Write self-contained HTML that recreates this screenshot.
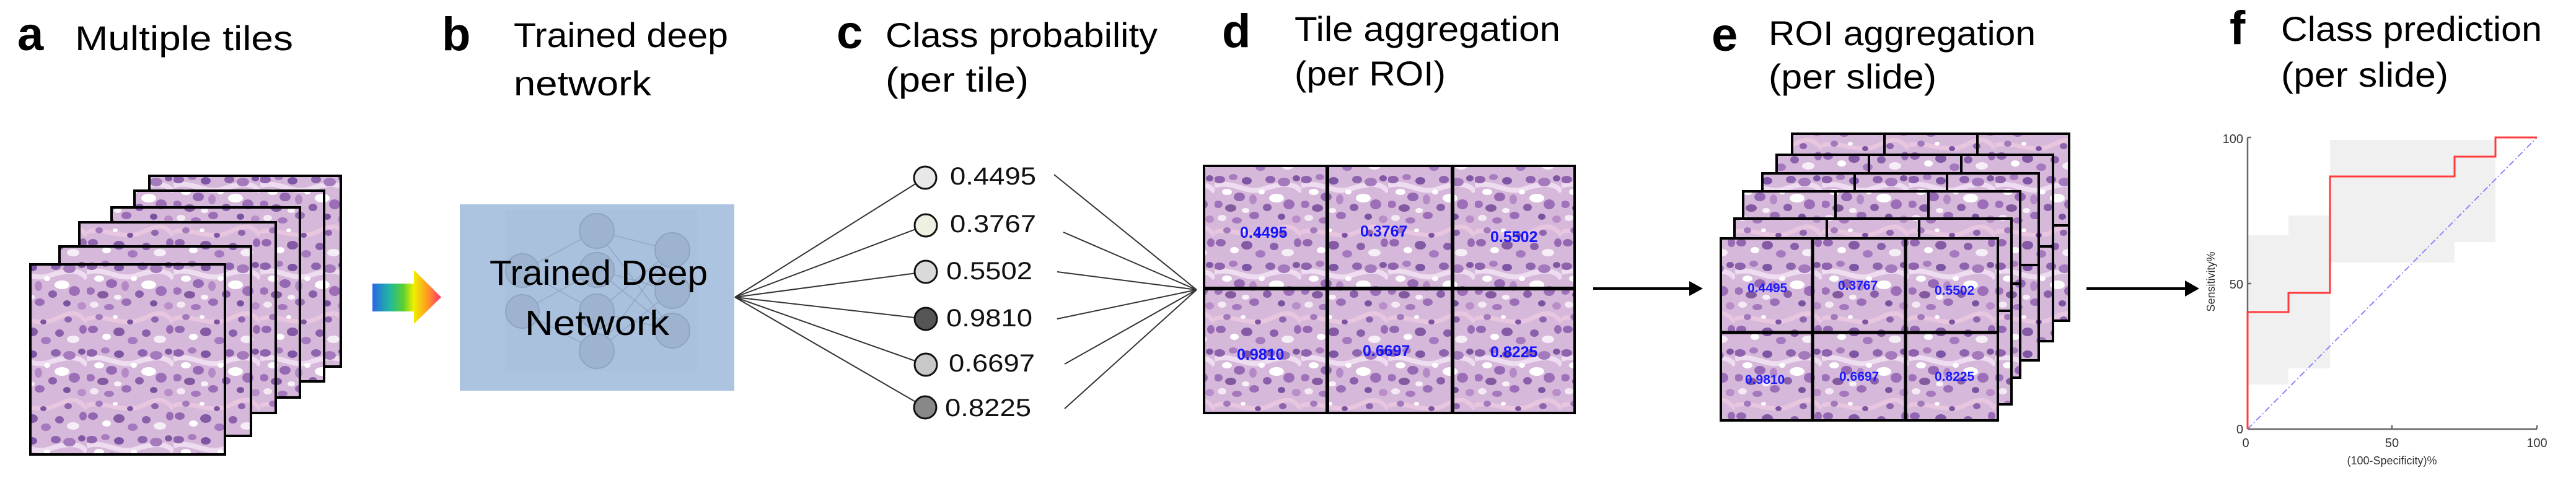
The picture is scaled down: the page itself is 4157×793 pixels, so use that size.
<!DOCTYPE html>
<html><head><meta charset="utf-8"><style>html,body{margin:0;padding:0;background:#fff;}svg{display:block}</style></head>
<body>
<svg width="4157" height="793" viewBox="0 0 4157 793" xmlns="http://www.w3.org/2000/svg" font-family="'Liberation Sans', sans-serif">
<defs>
<pattern id="h" width="140" height="140" patternUnits="userSpaceOnUse">
<rect width="140" height="140" fill="#d6b8da"/>
<path d="M0,20 C30,10 50,35 80,25 S130,15 140,30" stroke="#eedcf0" stroke-width="8" fill="none"/>
<path d="M0,95 C25,85 60,110 90,95 S125,85 140,100" stroke="#e9c6e0" stroke-width="7" fill="none"/>
<ellipse cx="8" cy="10" rx="9" ry="6" fill="#8e62ac"/>
<ellipse cx="30" cy="6" rx="7" ry="5" fill="#a97cbf"/>
<ellipse cx="52" cy="12" rx="8" ry="6" fill="#7d55a4"/>
<ellipse cx="20" cy="30" rx="8" ry="5" fill="#ffffff"/>
<ellipse cx="40" cy="38" rx="9" ry="7" fill="#9568b3"/>
<ellipse cx="62" cy="42" rx="6" ry="8" fill="#b48ac6"/>
<ellipse cx="6" cy="50" rx="7" ry="6" fill="#a071bb"/>
<ellipse cx="26" cy="56" rx="9" ry="6" fill="#83599f"/>
<ellipse cx="50" cy="60" rx="6" ry="4" fill="#f8f2f8"/>
<ellipse cx="64" cy="68" rx="8" ry="6" fill="#9a6db6"/>
<ellipse cx="12" cy="72" rx="7" ry="5" fill="#f4eaf4"/>
<ellipse cx="36" cy="76" rx="8" ry="5" fill="#a577bd"/>
<ellipse cx="90" cy="10" rx="8" ry="6" fill="#8d64ad"/>
<ellipse cx="112" cy="14" rx="10" ry="7" fill="#a47abd"/>
<ellipse cx="132" cy="8" rx="6" ry="5" fill="#7f57a3"/>
<ellipse cx="100" cy="40" rx="12" ry="7" fill="#ffffff"/>
<ellipse cx="85" cy="55" rx="7" ry="6" fill="#8a5fa9"/>
<ellipse cx="120" cy="50" rx="9" ry="8" fill="#9b6eb7"/>
<ellipse cx="108" cy="70" rx="6" ry="5" fill="#7a52a0"/>
<ellipse cx="132" cy="74" rx="7" ry="6" fill="#b88dc8"/>
<ellipse cx="10" cy="112" rx="8" ry="6" fill="#9266b0"/>
<ellipse cx="32" cy="124" rx="7" ry="5" fill="#ffffff"/>
<ellipse cx="52" cy="116" rx="9" ry="7" fill="#845aa5"/>
<ellipse cx="74" cy="130" rx="8" ry="6" fill="#a579bf"/>
<ellipse cx="96" cy="118" rx="7" ry="6" fill="#8b60ab"/>
<ellipse cx="118" cy="128" rx="10" ry="6" fill="#f6eef6"/>
<ellipse cx="134" cy="112" rx="6" ry="7" fill="#9a6bb5"/>
<ellipse cx="70" cy="100" rx="5" ry="4" fill="#7c54a2"/>
<ellipse cx="20" cy="92" rx="6" ry="5" fill="#a27abc"/>
<ellipse cx="46" cy="92" rx="4" ry="3" fill="#ffffff"/>
<ellipse cx="110" cy="96" rx="6" ry="5" fill="#8f63ae"/>
<ellipse cx="76" cy="30" rx="5" ry="4" fill="#ffffff"/>
</pattern>
<linearGradient id="rb" x1="601" y1="0" x2="712" y2="0" gradientUnits="userSpaceOnUse">
<stop offset="0" stop-color="#2a66e8"/><stop offset="0.25" stop-color="#20b8a0"/><stop offset="0.45" stop-color="#5cd030"/><stop offset="0.6" stop-color="#f0f000"/><stop offset="0.8" stop-color="#ff9a20"/><stop offset="1" stop-color="#ff3070"/>
</linearGradient>
</defs>

<g fill="#000">
<text x="28" y="81" font-size="76" font-weight="bold">a</text>
<text x="121" y="81" font-size="56" textLength="352" lengthAdjust="spacingAndGlyphs">Multiple tiles</text>
<text x="713" y="81" font-size="76" font-weight="bold">b</text>
<text x="829" y="76" font-size="56" textLength="346" lengthAdjust="spacingAndGlyphs">Trained deep</text>
<text x="829" y="154" font-size="56" textLength="222" lengthAdjust="spacingAndGlyphs">network</text>
<text x="1350" y="78" font-size="76" font-weight="bold">c</text>
<text x="1429" y="76" font-size="56" textLength="439" lengthAdjust="spacingAndGlyphs">Class probability</text>
<text x="1429" y="148" font-size="56" textLength="231" lengthAdjust="spacingAndGlyphs">(per tile)</text>
<text x="1972" y="76" font-size="76" font-weight="bold">d</text>
<text x="2089" y="66" font-size="56" textLength="429" lengthAdjust="spacingAndGlyphs">Tile aggregation</text>
<text x="2089" y="138" font-size="56" textLength="244" lengthAdjust="spacingAndGlyphs">(per ROI)</text>
<text x="2762" y="82" font-size="76" font-weight="bold">e</text>
<text x="2854" y="73" font-size="56" textLength="431" lengthAdjust="spacingAndGlyphs">ROI aggregation</text>
<text x="2854" y="143" font-size="56" textLength="271" lengthAdjust="spacingAndGlyphs">(per slide)</text>
<text x="3598" y="71" font-size="76" font-weight="bold">f</text>
<text x="3681" y="66" font-size="56" textLength="421" lengthAdjust="spacingAndGlyphs">Class prediction</text>
<text x="3681" y="140" font-size="56" textLength="270" lengthAdjust="spacingAndGlyphs">(per slide)</text>
</g>

<g stroke="#000" stroke-width="4" fill="url(#h)">
<rect x="241" y="284" width="309" height="308"/>
<rect x="217" y="308" width="306" height="308"/>
<rect x="180" y="335" width="304" height="307"/>
<rect x="128" y="359" width="317" height="308"/>
<rect x="96" y="398" width="309" height="306"/>
<rect x="49" y="427" width="314" height="307"/>
</g>

<polygon points="601,458 668,458 668,436 712,480 668,523 668,503 601,503" fill="url(#rb)"/>

<rect x="742" y="330" width="443" height="301" fill="#adc4e0"/>
<rect x="815" y="339" width="310" height="260" fill="#a9c0dc" opacity="0.6"/>
<g stroke="#8fa5c2" stroke-width="1.5" opacity="0.9">
<line x1="843" y1="437" x2="963" y2="373"/><line x1="843" y1="437" x2="963" y2="503"/>
<line x1="843" y1="503" x2="963" y2="567"/><line x1="843" y1="503" x2="963" y2="436"/>
<line x1="963" y1="373" x2="1085" y2="404"/><line x1="963" y1="373" x2="1085" y2="534"/>
<line x1="963" y1="436" x2="1085" y2="470"/><line x1="963" y1="503" x2="1085" y2="404"/>
<line x1="963" y1="567" x2="1085" y2="470"/><line x1="963" y1="436" x2="1085" y2="534"/>
<line x1="963" y1="567" x2="1085" y2="404"/><line x1="963" y1="503" x2="1085" y2="534"/>
</g>
<g fill="#9db3cf" stroke="#8ea4c0" stroke-width="2">
<circle cx="843" cy="437" r="27"/><circle cx="843" cy="503" r="27"/>
<circle cx="963" cy="373" r="28"/><circle cx="963" cy="436" r="28"/><circle cx="963" cy="503" r="28"/><circle cx="963" cy="567" r="28"/>
<circle cx="1085" cy="404" r="28"/><circle cx="1085" cy="470" r="28"/><circle cx="1085" cy="534" r="28"/>
</g>
<text x="790" y="460" font-size="57" textLength="352" lengthAdjust="spacingAndGlyphs" fill="#000">Trained Deep</text>
<text x="847" y="541" font-size="57" textLength="233" lengthAdjust="spacingAndGlyphs" fill="#000">Network</text>

<g stroke="#333" stroke-width="2">
<line x1="1186" y1="480" x2="1493" y2="287"/><line x1="1186" y1="480" x2="1494" y2="364"/>
<line x1="1186" y1="480" x2="1494" y2="439"/><line x1="1186" y1="480" x2="1494" y2="515"/>
<line x1="1186" y1="480" x2="1494" y2="589"/><line x1="1186" y1="480" x2="1493" y2="658"/>
</g>
<g stroke="#111" stroke-width="3">
<circle cx="1493" cy="287" r="18" fill="#e8e8e8"/>
<circle cx="1494" cy="364" r="18" fill="#eef1e2"/>
<circle cx="1494" cy="439" r="18" fill="#dadada"/>
<circle cx="1494" cy="515" r="18" fill="#555"/>
<circle cx="1494" cy="589" r="18" fill="#c8c8c8"/>
<circle cx="1493" cy="658" r="18" fill="#888"/>
</g>
<g font-size="40" fill="#111">
<text x="1533" y="298" textLength="139" lengthAdjust="spacingAndGlyphs">0.4495</text>
<text x="1533" y="375" textLength="139" lengthAdjust="spacingAndGlyphs">0.3767</text>
<text x="1527" y="451" textLength="139" lengthAdjust="spacingAndGlyphs">0.5502</text>
<text x="1527" y="527" textLength="139" lengthAdjust="spacingAndGlyphs">0.9810</text>
<text x="1531" y="600" textLength="139" lengthAdjust="spacingAndGlyphs">0.6697</text>
<text x="1525" y="672" textLength="139" lengthAdjust="spacingAndGlyphs">0.8225</text>
</g>
<g stroke="#333" stroke-width="2">
<line x1="1701" y1="282" x2="1931" y2="468"/><line x1="1716" y1="375" x2="1931" y2="468"/>
<line x1="1706" y1="439" x2="1931" y2="468"/><line x1="1706" y1="515" x2="1931" y2="468"/>
<line x1="1718" y1="588" x2="1931" y2="468"/><line x1="1718" y1="660" x2="1931" y2="468"/>
</g>

<rect x="1943" y="268" width="598" height="399" fill="url(#h)" stroke="#000" stroke-width="4"/>
<g stroke="#000" stroke-width="6">
<line x1="2142" y1="268" x2="2142" y2="667"/><line x1="2344" y1="268" x2="2344" y2="667"/>
<line x1="1943" y1="466" x2="2541" y2="466"/>
</g>
<g font-size="25" font-weight="bold" fill="#1414ff">
<text x="2001" y="384">0.4495</text><text x="2195" y="382">0.3767</text><text x="2405" y="391">0.5502</text>
<text x="1996" y="581">0.9810</text><text x="2199" y="575">0.6697</text><text x="2405" y="577">0.8225</text>
</g>

<line x1="2571" y1="466" x2="2730" y2="466" stroke="#000" stroke-width="4"/>
<polygon points="2748,466 2726,454 2726,478" fill="#000"/>

<g stroke="#000" stroke-width="4" fill="url(#h)">
<g><rect x="2892" y="216" width="447" height="302"/><line x1="3041" y1="216" x2="3041" y2="364"/><line x1="3191" y1="216" x2="3191" y2="364"/><line x1="3191" y1="364" x2="3339" y2="364"/></g>
<g><rect x="2867" y="250" width="446" height="301"/><line x1="3016" y1="250" x2="3016" y2="398"/><line x1="3165" y1="250" x2="3165" y2="398"/><line x1="3165" y1="398" x2="3313" y2="398"/></g>
<g><rect x="2844" y="280" width="446" height="302"/><line x1="2993" y1="280" x2="2993" y2="428"/><line x1="3142" y1="280" x2="3142" y2="428"/><line x1="3142" y1="428" x2="3290" y2="428"/></g>
<g><rect x="2813" y="309" width="447" height="301"/><line x1="2962" y1="309" x2="2962" y2="458"/><line x1="3112" y1="309" x2="3112" y2="458"/><line x1="3112" y1="458" x2="3260" y2="458"/></g>
<g><rect x="2799" y="353" width="447" height="300"/><line x1="2948" y1="353" x2="2948" y2="502"/><line x1="3097" y1="353" x2="3097" y2="502"/><line x1="3097" y1="502" x2="3246" y2="502"/></g>
<rect x="2777" y="385" width="447" height="294"/>
</g>
<g stroke="#000" stroke-width="5">
<line x1="2925" y1="385" x2="2925" y2="679"/><line x1="3075" y1="385" x2="3075" y2="679"/>
<line x1="2777" y1="537" x2="3224" y2="537"/>
</g>
<g font-size="21" font-weight="bold" fill="#1a1aff">
<text x="2820" y="472">0.4495</text><text x="2966" y="468">0.3767</text><text x="3122" y="476">0.5502</text>
<text x="2816" y="620">0.9810</text><text x="2968" y="615">0.6697</text><text x="3122" y="615">0.8225</text>
</g>

<line x1="3367" y1="466" x2="3530" y2="466" stroke="#000" stroke-width="4"/>
<polygon points="3549,466 3526,453 3526,479" fill="#000"/>

<g fill="#f0f0f0">
<rect x="3627" y="380" width="66" height="241"/>
<rect x="3693" y="348" width="67" height="247"/>
<rect x="3760" y="226" width="201" height="198"/>
<rect x="3961" y="226" width="66" height="165"/>
</g>
<g stroke="#666" stroke-width="2.5" fill="none">
<line x1="3627" y1="222" x2="3627" y2="693"/>
<line x1="3627" y1="693" x2="4094" y2="693"/>
<line x1="3627" y1="222" x2="3633" y2="222"/>
<line x1="3627" y1="458" x2="3633" y2="458"/>
<line x1="3860" y1="693" x2="3860" y2="687"/>
<line x1="4094" y1="693" x2="4094" y2="687"/>
</g>
<line x1="3627" y1="693" x2="4094" y2="222" stroke="#7d7dff" stroke-width="1.8" stroke-dasharray="10,4,2,4"/>
<polyline points="3627,693 3627,504 3693,504 3693,473 3760,473 3760,285 3961,285 3961,253 4027,253 4027,222 4094,222" fill="none" stroke="#ff3b3b" stroke-width="3"/>
<g font-size="20" fill="#333">
<text x="3620" y="231" text-anchor="end">100</text>
<text x="3620" y="466" text-anchor="end">50</text>
<text x="3620" y="700" text-anchor="end">0</text>
<text x="3624" y="722" text-anchor="middle">0</text>
<text x="3860" y="722" text-anchor="middle">50</text>
<text x="4094" y="722" text-anchor="middle">100</text>
<text x="3860" y="750" text-anchor="middle" font-size="18">(100-Specificity)%</text>
<text x="0" y="0" font-size="18" text-anchor="middle" transform="translate(3574,455) rotate(-90)">Sensitivity%</text>
</g>
</svg>
</body></html>
